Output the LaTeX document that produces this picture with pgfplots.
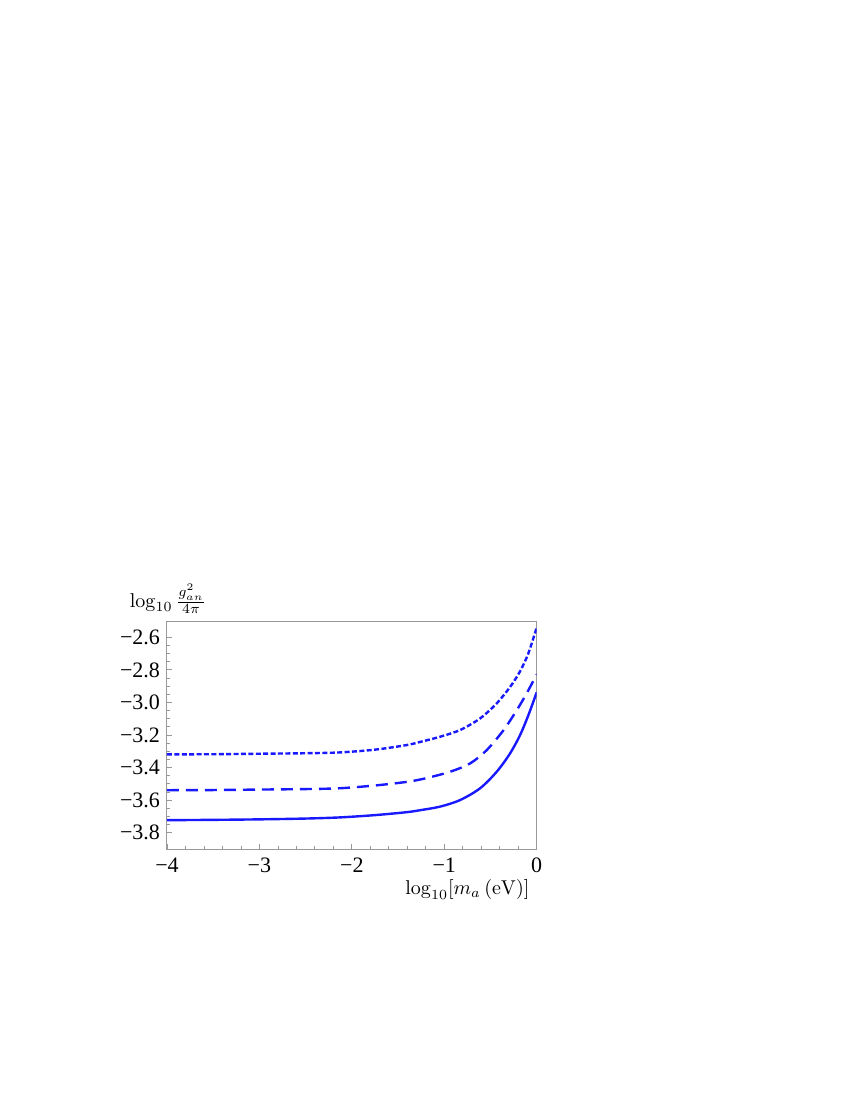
\documentclass[border=0pt]{standalone}
\usepackage[no-math]{fontspec}
\setmainfont{Liberation Serif}
\usepackage{pgfplots}
\pgfplotsset{compat=1.18}
\definecolor{mblue}{rgb}{0.1,0.1,1}
\begin{document}
\begin{tikzpicture}
\path[use as bounding box] (-83.5pt,-125.5pt) rectangle (341.5pt,424.5pt);
\begin{axis}[
  at={(0,0)}, anchor=south west,
  scale only axis, width=184.85pt, height=114pt,
  xmin=-4, xmax=0, ymin=-3.9, ymax=-2.5,
  xtick={-4,-3,-2,-1,0},
  xticklabels={−4,−3,−2,−1,0},
  ytick={-3.8,-3.6,-3.4,-3.2,-3.0,-2.8,-2.6},
  yticklabels={−3.8,−3.6,−3.4,−3.2,−3.0,−2.8,−2.6},
  minor x tick num=4, minor y tick num=3,
  tick align=inside, xtick pos=bottom, ytick pos=left,
  major tick length=2.5pt, minor tick length=1.3pt,
  axis line style={gray!80, line width=0.5pt},
  tick style={gray!80, line width=0.4pt},
  tick label style={font=\rmfamily\fontsize{11}{13}\selectfont},
  xticklabel style={yshift=-1pt},
  clip=true,
]
\addplot[mblue, line width=1.2pt, smooth] coordinates {
(-4,-3.723) (-3.5,-3.721) (-3,-3.718) (-2.5,-3.713) (-2.13,-3.706) (-1.75,-3.692) (-1.408,-3.674) (-1.264,-3.662) (-1.047,-3.640) (-0.831,-3.600) (-0.614,-3.528) (-0.433,-3.426) (-0.289,-3.314) (-0.181,-3.202) (-0.091,-3.080) (0,-2.938)
};
\addplot[mblue, line width=1.2pt, smooth, dash pattern=on 6pt off 3.5pt] coordinates {
(-4,-3.539) (-3.5,-3.538) (-3,-3.535) (-2.5,-3.532) (-2.13,-3.527) (-1.75,-3.510) (-1.408,-3.488) (-1.21,-3.467) (-0.939,-3.426) (-0.722,-3.375) (-0.541,-3.293) (-0.361,-3.172) (-0.217,-3.049) (-0.108,-2.944) (0,-2.828)
};
\addplot[mblue, line width=1.2pt, smooth, dash pattern=on 2.5pt off 1.2pt] coordinates {
(-4,-3.319) (-3.5,-3.318) (-3,-3.315) (-2.5,-3.312) (-2.13,-3.307) (-1.75,-3.290) (-1.408,-3.262) (-1.264,-3.243) (-1.047,-3.211) (-0.831,-3.170) (-0.614,-3.099) (-0.433,-3.006) (-0.289,-2.906) (-0.181,-2.810) (-0.091,-2.700) (0,-2.540)
};
\end{axis}
\node[anchor=base, font=\fontsize{10}{12}\selectfont] at (0.5pt,121pt) {$\log_{10}\frac{g_{an}^2}{4\pi}$};
\node[anchor=base east, font=\fontsize{10}{12}\selectfont] at (184.8pt,-22.7pt) {$\log_{10}[m_a\,(\mathrm{eV})]$};
\end{tikzpicture}
\end{document}
